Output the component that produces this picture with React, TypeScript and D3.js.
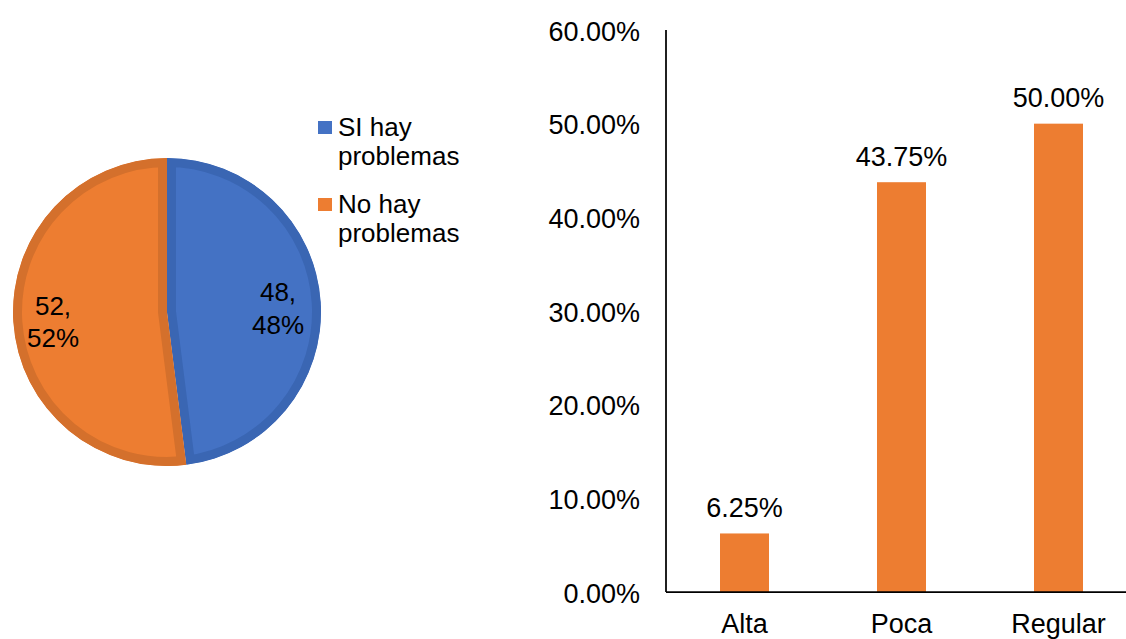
import React from "react";
import * as d3 from "d3";

const pieLabels = ["SI hay problemas", "No hay problemas"];
const pieValues = [48, 52];
const pieFill = ["#4472C4", "#ED7D31"];
const pieBorder = ["#3A66B3", "#D4702C"];

const categories = ["Alta", "Poca", "Regular"];
const barValues = [0.0625, 0.4375, 0.5];
const yTicks = [0, 0.1, 0.2, 0.3, 0.4, 0.5, 0.6];

const W = 1126;
const H = 639;

export default function App() {
  const cx = 167, cy = 312, R = 154;
  const pie = d3.pie<number>().sort(null).value((d) => d)(pieValues);
  const arc = d3.arc<d3.PieArcDatum<number>>().innerRadius(0).outerRadius(R);
  const total = d3.sum(pieValues);

  const x = d3.scaleBand<string>().domain(categories).range([666, 1137]).paddingInner(0.688).paddingOuter(0.344);
  const y = d3.scaleLinear().domain([0, 0.6]).range([592, 30]);
  const fmt = d3.format(".2%");

  const labelPos = [
    { x: 278, y1: 301, y2: 334 },
    { x: 53, y1: 315, y2: 347 },
  ];

  return (
    <svg width={W} height={H} style={{ position: "absolute", left: 0, top: 0, background: "#fff" }}
      fontFamily="'Liberation Sans', Arial, sans-serif">
      <defs>
        {pie.map((p, i) => (
          <clipPath id={`clip${i}`} key={i}>
            <path d={arc(p) || ""} />
          </clipPath>
        ))}
      </defs>
      <g transform={`translate(${cx},${cy})`}>
        {pie.map((p, i) => (
          <path key={i} d={arc(p) || ""}
            fill={pieFill[i]} stroke={pieBorder[i]} strokeWidth={18} clipPath={`url(#clip${i})`} />
        ))}
      </g>
      {pie.map((p, i) => (
        <text key={"l" + i} fontSize={26} fill="#000" textAnchor="middle">
          <tspan x={labelPos[i].x} y={labelPos[i].y1}>{`${pieValues[i]},`}</tspan>
          <tspan x={labelPos[i].x} y={labelPos[i].y2}>{`${Math.round((pieValues[i] / total) * 100)}%`}</tspan>
        </text>
      ))}
      {pieLabels.map((lab, i) => {
        const parts = lab.split(" ");
        const first = parts.slice(0, 2).join(" ");
        const second = parts.slice(2).join(" ");
        const top = i === 0 ? 136 : 213;
        return (
          <g key={"lg" + i}>
            <rect x={318} y={top - 15} width={14} height={13} fill={pieFill[i]} />
            <text fontSize={26} fill="#000">
              <tspan x={338} y={top}>{first}</tspan>
              <tspan x={338} y={top + 29}>{second}</tspan>
            </text>
          </g>
        );
      })}

      {yTicks.map((t) => (
        <text key={t} x={640} y={y(t) + 10.5} fontSize={27} textAnchor="end" fill="#000">{fmt(t)}</text>
      ))}
      {categories.map((c, i) => (
        <g key={c}>
          <rect x={x(c)} y={y(barValues[i])} width={x.bandwidth()} height={y(0) - y(barValues[i])} fill="#ED7D31" />
          <text x={(x(c) || 0) + x.bandwidth() / 2} y={y(barValues[i]) - 16.5} fontSize={27} textAnchor="middle" fill="#000">{fmt(barValues[i])}</text>
          <text x={(x(c) || 0) + x.bandwidth() / 2} y={633} fontSize={27} textAnchor="middle" fill="#000">{c}</text>
        </g>
      ))}
      <line x1={666} x2={666} y1={30} y2={592} stroke="#000" strokeWidth={1.75} />
      <line x1={666} x2={W} y1={592} y2={592} stroke="#000" strokeWidth={1.75} />
    </svg>
  );
}
